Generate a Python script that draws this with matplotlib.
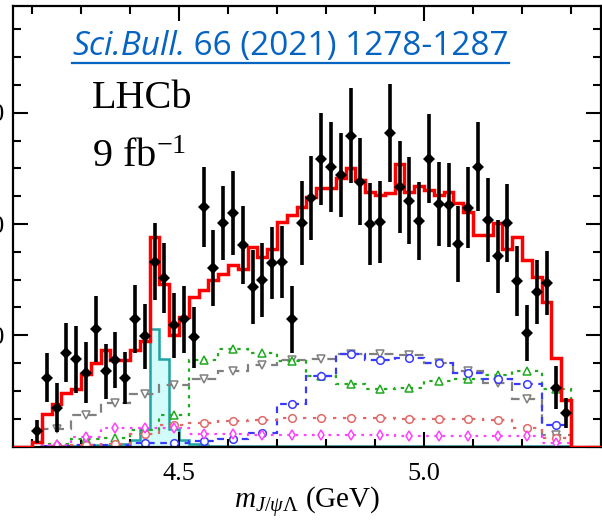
import numpy as np
import matplotlib
matplotlib.use("Agg")
import matplotlib.pyplot as plt
from matplotlib.ticker import MultipleLocator, FuncFormatter
from matplotlib.lines import Line2D

plt.rcParams["font.family"] = ["Liberation Serif", "DejaVu Serif"]
plt.rcParams["mathtext.fontset"] = "custom"
plt.rcParams["mathtext.rm"] = "Liberation Serif"
plt.rcParams["mathtext.it"] = "Liberation Serif:italic"

# 20 MeV bins in m(J/psi Lambda), centres 4.21 ... 5.29 GeV
mass = np.round(np.arange(4.21, 5.30, 0.02), 2)

data = [2.7, 12.4, 7.0, 16.9, 15.7, 13.3, 21.1, 13.5, 15.5, 12.3,
        22.9, 19.8, 33.2, 30.3, 21.8, 22.9, 19.6, 43.1, 32.1, 40.2,
        42.0, 36.2, 28.7, 29.9, 33.0, 33.2, 22.9, 40.2, 44.7, 51.7,
        50.3, 48.8, 55.9, 47.6, 40.0, 40.4, 56.4, 46.7, 44.2, 40.6,
        51.7, 43.6, 43.4, 36.4, 42.9, 50.3, 40.7, 34.2, 40.2, 29.7,
        20.4, 27.8, 29.4, 10.6, 6.1]
err = [2.1, 4.4, 4.4, 5.3, 6.0, 5.5, 5.9, 5.0, 5.0, 4.7,
       6.1, 5.8, 6.9, 6.3, 5.8, 6.0, 5.5, 7.2, 6.8, 6.7,
       7.5, 7.0, 6.6, 6.6, 6.5, 6.5, 6.0, 7.6, 7.6, 8.3,
       8.1, 7.6, 8.6, 7.8, 7.4, 7.4, 8.8, 8.3, 7.8, 7.0,
       8.0, 7.6, 7.6, 6.9, 7.3, 8.0, 7.6, 6.6, 7.0, 6.3,
       5.0, 5.8, 5.7, 3.8, 2.7]
total_fit = [0.8, 5.9, 7.7, 9.7, 10.4, 13.1, 15.1, 17.3, 15.5, 15.5,
             17.3, 19.0, 37.6, 29.3, 20.0, 23.2, 26.8, 28.2, 29.9, 31.1,
             32.6, 32.0, 35.8, 34.0, 35.5, 40.3, 41.6, 43.0, 44.8, 46.4,
             46.4, 48.2, 50.0, 47.9, 45.7, 45.2, 45.5, 50.8, 45.7, 46.8,
             46.1, 45.2, 45.7, 43.7, 42.1, 38.0, 38.0, 40.1, 35.5, 37.6,
             33.5, 30.4, 26.0, 16.0, 8.3]
pcs = [0.0, 0.0, 0.1, 0.1, 0.1, 0.1, 0.2, 0.2, 0.3, 0.5,
       1.1, 3.1, 21.2, 15.8, 3.2, 1.1, 0.4, 0.2, 0.1, 0.1,
       0.1, 0.1, 0.1, 0.1, 0.1, 0.1, 0.1, 0.1, 0.1, 0.1,
       0.1, 0.1, 0.1, 0.1, 0.1, 0.1, 0.1, 0.1, 0.1, 0.1,
       0.1, 0.1, 0.1, 0.1, 0.1, 0.1, 0.1, 0.1, 0.1, 0.1,
       0.1, 0.1, 0.1, 0.1, 0.1]

# 60 MeV bins for the other fit components, centres 4.25 ... 5.27 GeV
mass_coarse = np.round(np.arange(4.25, 5.28, 0.06), 2)
grey = [3.2, 5.6, 7.9, 9.5, 11.0, 12.2, 13.5, 14.6, 15.5,
        15.8, 16.6, 16.6, 16.4, 15.0, 13.5, 11.5, 8.6, 2.0]
green = [0.5, 1.3, 1.6, 2.9, 5.7, 15.5, 17.5, 16.8, 15.3,
         12.6, 11.3, 10.4, 10.6, 11.7, 12.2, 12.8, 13.5, 10.4]
blue = [0.1, 0.2, 0.3, 0.6, 0.7, 0.9, 1.3, 2.5, 7.7,
        12.6, 16.6, 15.5, 16.0, 15.1, 13.3, 12.2, 11.2, 3.8]
salmon = [0.1, 0.2, 0.4, 2.3, 3.8, 4.3, 4.6, 4.8, 5.1,
          5.2, 5.2, 5.1, 5.0, 4.9, 4.9, 4.7, 3.4, 1.6]
magenta = [0.3, 1.7, 3.4, 3.4, 3.4, 2.3, 2.3, 2.0, 2.0,
           2.0, 2.0, 2.0, 1.8, 1.8, 1.8, 1.8, 1.8, 0.7]

W, H = 602, 529
fig = plt.figure(figsize=(W / 100, H / 100), dpi=100)
ax = fig.add_axes([12.7 / W, 1 - 446.5 / H, (601 - 12.7) / W, (446.5 - 6) / H])
xlo, xhi = 4.1606, 5.3612
ax.set_xlim(xlo, xhi)
ax.set_ylim(0, 79.2)

edges = np.append(mass - 0.01, mass[-1] + 0.01)
edges_c = np.append(mass_coarse - 0.03, mass_coarse[-1] + 0.03)

# Pcs signal, filled
ax.stairs(pcs, edges, fill=True, color="#d2fbfb", zorder=1)
ax.stairs(pcs, edges, color="#1fa3a3", lw=1.8, baseline=0, zorder=1.5)

comps = [
    (grey, "#808080", (4, 3), "v"),
    (green, "#1faa1f", (1.5, 2.5), "^"),
    (blue, "#3a3aff", (3, 2.5), "o"),
    (salmon, "#e06a6a", (1.5, 3), "o"),
    (magenta, "#ff40ff", (1.2, 2.5), "d"),
]
for vals, col, dash, mk in comps:
    st = ax.stairs(vals, edges_c, color=col, lw=1.6, baseline=0, zorder=2)
    st.set_linestyle((0, dash))
    ax.plot(mass_coarse, vals, ls="none", marker=mk, ms=5.5, mfc="white",
            mec=col, mew=1.1, zorder=2.5)

# total fit, padded with zero outside the fitted range
fit_edges = np.concatenate([[xlo], edges, [xhi]])
fit_vals = np.concatenate([[0], total_fit, [0]])
ax.stairs(fit_vals, fit_edges, color="red", lw=2.5, baseline=None, zorder=3)

ax.errorbar(mass, data, yerr=err, fmt="D", color="black", ms=6.5, mew=0,
            elinewidth=2.6, capsize=0, zorder=4)

ax.xaxis.set_major_locator(MultipleLocator(0.5))
ax.xaxis.set_minor_locator(MultipleLocator(0.1))
ax.xaxis.set_major_formatter(FuncFormatter(lambda v, p: f"{v:.1f}"))
ax.yaxis.set_major_locator(MultipleLocator(20))
ax.yaxis.set_minor_locator(MultipleLocator(5))
ax.yaxis.set_major_formatter(FuncFormatter(lambda v, p: "" if v == 0 else f"{v:.0f}"))
ax.tick_params(which="both", direction="in", top=True, right=True, width=1.5)
ax.tick_params(which="major", length=11, labelsize=19)
ax.tick_params(which="minor", length=5.8)
ax.tick_params(axis="x", pad=12)
ax.tick_params(axis="y", pad=5.5)
for sp in ax.spines.values():
    sp.set_linewidth(1.6)

ax.set_xlabel(r"$m_{J/\psi\Lambda}$ (GeV)", fontsize=21, labelpad=0)

fig.text(92 / W, 1 - 108 / H, "LHCb", fontsize=29, va="baseline")
fig.text(92 / W, 1 - 167 / H, r"9 fb$^{-1}$", fontsize=29, va="baseline")

link_y = 1 - 55 / H
t1 = fig.text(72 / W, link_y, "Sci.Bull.", fontsize=24, style="italic",
              family="Open Sans", color="#0563c1", va="baseline")
fig.canvas.draw()
bb = t1.get_window_extent()
t2 = fig.text(bb.x1 / W, link_y, " 66 (2021) 1278-1287", fontsize=24,
              family="Open Sans", color="#0563c1", va="baseline")
fig.canvas.draw()
bb2 = t2.get_window_extent()
yline = 1 - 63 / H
fig.add_artist(Line2D([bb.x0 / W, bb2.x1 / W], [yline, yline], color="#0563c1",
                      lw=1.6, transform=fig.transFigure))

fig.savefig("out.png", dpi=100)
